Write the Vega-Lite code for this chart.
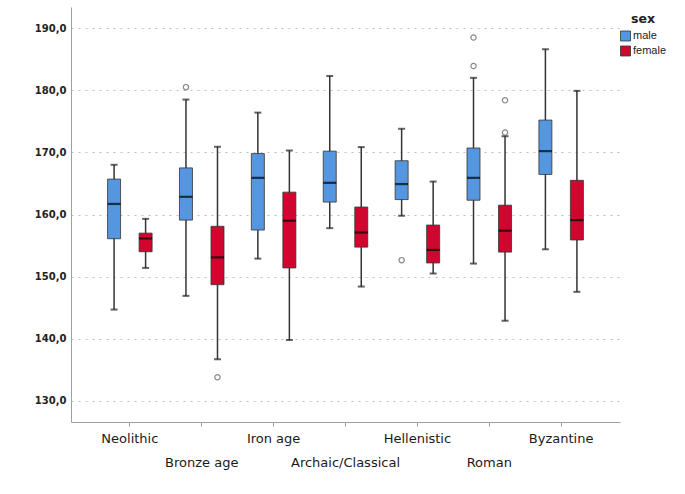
{
  "$schema": "https://vega.github.io/schema/vega-lite/v6.json",
  "autosize": {"type": "none"},
  "padding": {"left": 71, "top": 7, "right": 65, "bottom": 72},
  "width": 549,
  "height": 415,
  "background": "white",
  "config": {
    "view": {"stroke": null},
    "font": "DejaVu Sans"
  },
  "datasets": {
    "stats": [
      {"period": "Neolithic", "sex": "male", "lower": 144.7, "q1": 156.1, "median": 161.7, "q3": 165.7, "upper": 168.0},
      {"period": "Neolithic", "sex": "female", "lower": 151.4, "q1": 154.0, "median": 156.15, "q3": 157.0, "upper": 159.3},
      {"period": "Bronze age", "sex": "male", "lower": 146.9, "q1": 159.1, "median": 162.85, "q3": 167.5, "upper": 178.5},
      {"period": "Bronze age", "sex": "female", "lower": 136.7, "q1": 148.7, "median": 153.1, "q3": 158.1, "upper": 170.9},
      {"period": "Iron age", "sex": "male", "lower": 152.9, "q1": 157.5, "median": 165.9, "q3": 169.8, "upper": 176.4},
      {"period": "Iron age", "sex": "female", "lower": 139.8, "q1": 151.4, "median": 159.0, "q3": 163.6, "upper": 170.3},
      {"period": "Archaic/Classical", "sex": "male", "lower": 157.8, "q1": 162.0, "median": 165.1, "q3": 170.2, "upper": 182.3},
      {"period": "Archaic/Classical", "sex": "female", "lower": 148.4, "q1": 154.75, "median": 157.1, "q3": 161.2, "upper": 170.85},
      {"period": "Hellenistic", "sex": "male", "lower": 159.8, "q1": 162.4, "median": 164.9, "q3": 168.65, "upper": 173.8},
      {"period": "Hellenistic", "sex": "female", "lower": 150.5, "q1": 152.2, "median": 154.3, "q3": 158.3, "upper": 165.3},
      {"period": "Roman", "sex": "male", "lower": 152.1, "q1": 162.3, "median": 165.9, "q3": 170.7, "upper": 182.0},
      {"period": "Roman", "sex": "female", "lower": 142.9, "q1": 153.95, "median": 157.4, "q3": 161.5, "upper": 172.6},
      {"period": "Byzantine", "sex": "male", "lower": 154.4, "q1": 166.45, "median": 170.2, "q3": 175.2, "upper": 186.6},
      {"period": "Byzantine", "sex": "female", "lower": 147.55, "q1": 155.9, "median": 159.1, "q3": 165.5, "upper": 179.9}
    ],
    "outliers": [
      {"period": "Bronze age", "sex": "male", "value": 180.5},
      {"period": "Bronze age", "sex": "female", "value": 133.8},
      {"period": "Hellenistic", "sex": "male", "value": 152.65},
      {"period": "Roman", "sex": "male", "value": 188.5},
      {"period": "Roman", "sex": "male", "value": 183.9},
      {"period": "Roman", "sex": "female", "value": 178.4},
      {"period": "Roman", "sex": "female", "value": 173.2}
    ]
  },
  "encoding": {
    "x": {
      "field": "period",
      "type": "nominal",
      "sort": ["Neolithic", "Bronze age", "Iron age", "Archaic/Classical", "Hellenistic", "Roman", "Byzantine"],
      "scale": {"paddingInner": 0.123, "paddingOuter": 0.38},
      "axis": {
        "title": null,
        "labelAngle": 0,
        "labelFont": "DejaVu Sans",
        "labelFontSize": 13,
        "labelColor": "#1a1a1a",
        "labelPadding": 6,
        "labelOverlap": false,
        "labelLineHeight": 24,
        "labelExpr": "indexof(['Bronze age','Archaic/Classical','Roman'], datum.value) >= 0 ? ['', datum.label] : datum.label",
        "domainColor": "#a0a0a0",
        "tickColor": "#a0a0a0",
        "tickSize": 4,
        "grid": false,
        "encode": {
          "ticks": {"y": {"value": -4}, "y2": {"signal": "indexof(['Bronze age','Archaic/Classical','Roman'], datum.value) >= 0 ? 28 : 4"}}
        }
      }
    },
    "xOffset": {
      "field": "sex",
      "type": "nominal",
      "sort": ["male", "female"],
      "scale": {"paddingInner": 0, "paddingOuter": 0}
    }
  },
  "layer": [
    {
      "data": {"name": "stats"},
      "mark": {"type": "rule", "color": "#333", "strokeWidth": 1.5},
      "encoding": {
        "y": {
          "field": "lower",
          "type": "quantitative",
          "scale": {"domain": [126.6, 193.4], "nice": false, "zero": false},
          "axis": {
            "title": null,
            "values": [130, 140, 150, 160, 170, 180, 190],
            "labelExpr": "replace(format(datum.value, '.1f'), '.', ',')",
            "labelFont": "DejaVu Sans",
            "labelFontSize": 10,
            "labelFontWeight": "bold",
            "labelColor": "#222",
            "labelPadding": 5,
            "ticks": false,
            "domainColor": "#a0a0a0",
            "gridColor": "#c0c0c0",
            "gridDash": [2, 5],
            "gridWidth": 1.2
          }
        },
        "y2": {"field": "upper"}
      }
    },
    {
      "data": {"name": "stats"},
      "mark": {"type": "tick", "color": "#222", "size": 7, "thickness": 2},
      "encoding": {"y": {"field": "lower", "type": "quantitative"}}
    },
    {
      "data": {"name": "stats"},
      "mark": {"type": "tick", "color": "#222", "size": 7, "thickness": 2},
      "encoding": {"y": {"field": "upper", "type": "quantitative"}}
    },
    {
      "data": {"name": "stats"},
      "mark": {"type": "bar", "size": 13, "stroke": "#333", "strokeWidth": 0.8, "opacity": 1},
      "encoding": {
        "y": {"field": "q1", "type": "quantitative"},
        "y2": {"field": "q3"},
        "color": {
          "field": "sex",
          "type": "nominal",
          "scale": {"domain": ["male", "female"], "range": ["#5497e0", "#d2052f"]},
          "legend": {
            "title": "sex",
            "orient": "none",
            "legendX": 549,
            "legendY": 6,
            "titleAnchor": "middle",
            "titleFont": "DejaVu Sans",
            "titleFontSize": 12.5,
            "titleFontWeight": "bold",
            "titleColor": "#222",
            "titlePadding": 5,
            "labelFont": "Liberation Sans",
            "labelFontSize": 11,
            "labelColor": "#222",
            "labelOffset": 2,
            "symbolType": "square",
            "symbolSize": 100,
            "symbolStrokeColor": "#333",
            "symbolStrokeWidth": 0.8,
            "symbolOpacity": 1,
            "rowPadding": 0
          }
        }
      }
    },
    {
      "data": {"name": "stats"},
      "mark": {"type": "tick", "color": "#000", "size": 13, "thickness": 2.2},
      "encoding": {"y": {"field": "median", "type": "quantitative"}}
    },
    {
      "data": {"name": "outliers"},
      "mark": {"type": "point", "shape": "circle", "filled": false, "size": 28, "stroke": "#555", "strokeWidth": 1.2},
      "encoding": {"y": {"field": "value", "type": "quantitative"}}
    }
  ]
}
